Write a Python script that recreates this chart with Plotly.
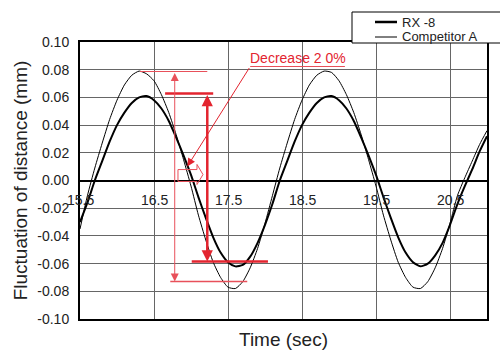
import plotly.graph_objects as go

# ---------------- data ----------------
time_s = [15.5, 15.6, 15.7, 15.8, 15.9, 16.0, 16.1, 16.2, 16.3, 16.4, 16.5, 16.6, 16.7, 16.8, 16.9,
          17.0, 17.1, 17.2, 17.3, 17.4, 17.5, 17.6, 17.7, 17.8, 17.9, 18.0, 18.1, 18.2, 18.3, 18.4,
          18.5, 18.6, 18.7, 18.8, 18.9, 19.0, 19.1, 19.2, 19.3, 19.4, 19.5, 19.6, 19.7, 19.8, 19.9,
          20.0, 20.1, 20.2, 20.3, 20.4, 20.5, 20.6, 20.7, 20.8, 20.9, 21.0]

rx8 = [-0.030, -0.016, 0.000, 0.014, 0.028, 0.040, 0.049, 0.056, 0.060, 0.061, 0.058, 0.052, 0.043,
       0.031, 0.018, 0.004, -0.012, -0.027, -0.041, -0.052, -0.059, -0.062, -0.061, -0.055, -0.045,
       -0.032, -0.017, 0.000, 0.014, 0.028, 0.040, 0.049, 0.056, 0.060, 0.061, 0.058, 0.052, 0.043,
       0.031, 0.018, 0.004, -0.012, -0.027, -0.041, -0.052, -0.059, -0.062, -0.060, -0.054, -0.045,
       -0.032, -0.017, -0.004, 0.008, 0.021, 0.032]

competitor = [-0.035, -0.011, 0.009, 0.027, 0.044, 0.058, 0.069, 0.076, 0.079, 0.077, 0.072, 0.062,
              0.049, 0.033, 0.015, -0.004, -0.025, -0.043, -0.059, -0.070, -0.077, -0.078, -0.073,
              -0.063, -0.049, -0.031, -0.011, 0.009, 0.027, 0.044, 0.058, 0.069, 0.076, 0.079, 0.078,
              0.072, 0.062, 0.049, 0.033, 0.015, -0.004, -0.025, -0.043, -0.059, -0.070, -0.077,
              -0.078, -0.073, -0.063, -0.049, -0.031, -0.011, 0.002, 0.014, 0.026, 0.036]

series_names = ["RX -8", "Competitor A"]

x_tick_vals = [15.5, 16.5, 17.5, 18.5, 19.5, 20.5]
x_tick_labels = ["15.5", "16.5", "17.5", "18.5", "19.5", "20.5"]
y_tick_vals = [0.10, 0.08, 0.06, 0.04, 0.02, 0.00, -0.02, -0.04, -0.06, -0.08, -0.10]
y_tick_labels = ["0.10", "0.08", "0.06", "0.04", "0.02", "0.00", "-0.02", "-0.04", "-0.06", "-0.08", "-0.10"]

annotation_text = "Decrease 2 0%"

# amplitude markers (value levels)
comp_top = 0.0787
comp_bottom = -0.073
rx8_top = 0.0628
rx8_bottom = -0.0585

# ---------------- figure ----------------
FONT = "Liberation Sans, Arial, sans-serif"
RED = "#e3242f"
RED_THIN = "#e8505a"

fig = go.Figure()
fig.add_trace(go.Scatter(x=time_s, y=competitor, mode="lines", name=series_names[1],
                         line=dict(color="black", width=1, shape="spline", smoothing=0.6),
                         showlegend=False))
fig.add_trace(go.Scatter(x=time_s, y=rx8, mode="lines", name=series_names[0],
                         line=dict(color="black", width=2, shape="spline", smoothing=0.6),
                         showlegend=False))

shapes = []
annotations = []

# red horizontal amplitude lines
shapes.append(dict(type="line", xref="x", yref="y", x0=16.31, x1=17.22, y0=comp_top, y1=comp_top,
                   line=dict(color=RED_THIN, width=1.2)))
shapes.append(dict(type="line", xref="x", yref="y", x0=16.65, x1=17.30, y0=rx8_top, y1=rx8_top,
                   line=dict(color=RED, width=2.5)))
shapes.append(dict(type="line", xref="x", yref="y", x0=17.01, x1=18.04, y0=rx8_bottom, y1=rx8_bottom,
                   line=dict(color=RED, width=2.5)))
shapes.append(dict(type="line", xref="x", yref="y", x0=16.72, x1=17.76, y0=comp_bottom, y1=comp_bottom,
                   line=dict(color=RED_THIN, width=1.5)))

# block arrow outline
shapes.append(dict(type="path", xref="x", yref="y",
                   path="M 16.824 0.0079 L 17.081 0.0079 L 17.081 0.0116 L 17.162 0.0043 "
                        "L 17.081 -0.0029 L 17.081 -0.0007 L 16.824 -0.0007 Z",
                   line=dict(color=RED_THIN, width=1), fillcolor="rgba(0,0,0,0)"))

# underline of the text
shapes.append(dict(type="line", xref="x", yref="y", x0=17.80, x1=19.08, y0=0.0823, y1=0.0823,
                   line=dict(color=RED_THIN, width=1)))

# vertical double arrows
annotations.append(dict(x=16.78, y=comp_bottom, ax=16.78, ay=comp_top, xref="x", yref="y",
                        axref="x", ayref="y", text="", showarrow=True, arrowside="end+start",
                        arrowhead=2, startarrowhead=2, arrowwidth=1, arrowsize=1.6, startarrowsize=1.6,
                        arrowcolor=RED_THIN))
annotations.append(dict(x=17.22, y=rx8_bottom, ax=17.22, ay=rx8_top, xref="x", yref="y",
                        axref="x", ayref="y", text="", showarrow=True, arrowside="end+start",
                        arrowhead=2, startarrowhead=2, arrowwidth=2.5, arrowsize=0.9, startarrowsize=0.9,
                        arrowcolor=RED))
# pointer line
annotations.append(dict(x=16.95, y=0.0101, ax=17.80, ay=0.0823, xref="x", yref="y",
                        axref="x", ayref="y", text="", showarrow=True, arrowhead=2,
                        arrowwidth=1, arrowsize=1.6, arrowcolor=RED))
annotations.append(dict(x=18.45, y=0.0888, xref="x", yref="y", text=annotation_text, showarrow=False,
                        font=dict(family=FONT, size=14, color=RED), xanchor="center", yanchor="middle"))

# x tick labels along zero line
for v, lab in zip(x_tick_vals, x_tick_labels):
    annotations.append(dict(x=v, y=0, xref="x", yref="y", text=lab, showarrow=False,
                            xanchor="center", yanchor="top", yshift=-9,
                            font=dict(family=FONT, size=14, color="#222")))

# custom legend
W, H = 407.0, 277.0
def px_x(p):
    return (p - 80) / W
def px_y(p):
    return (319 - p) / H
shapes.append(dict(type="rect", xref="paper", yref="paper", x0=px_x(352), x1=px_x(506),
                   y0=px_y(43), y1=px_y(12), line=dict(color="black", width=1), fillcolor="white",
                   layer="above"))
shapes.append(dict(type="line", xref="paper", yref="paper", x0=px_x(375), x1=px_x(397),
                   y0=px_y(22), y1=px_y(22), line=dict(color="black", width=2.5), layer="above"))
shapes.append(dict(type="line", xref="paper", yref="paper", x0=px_x(375), x1=px_x(397),
                   y0=px_y(37), y1=px_y(37), line=dict(color="black", width=1), layer="above"))
annotations.append(dict(x=px_x(400), y=px_y(22), xref="paper", yref="paper", text=series_names[0],
                        showarrow=False, xanchor="left", yanchor="middle",
                        font=dict(family=FONT, size=13, color="#222")))
annotations.append(dict(x=px_x(400), y=px_y(37), xref="paper", yref="paper", text=series_names[1],
                        showarrow=False, xanchor="left", yanchor="middle",
                        font=dict(family=FONT, size=13, color="#222")))

fig.update_layout(
    width=500, height=350,
    margin=dict(l=80, r=13, t=42, b=31),
    paper_bgcolor="white", plot_bgcolor="white",
    font=dict(family=FONT, size=13, color="#222"),
    shapes=shapes, annotations=annotations,
    xaxis=dict(range=[15.5, 21.0], tick0=15.5, dtick=1, showticklabels=False, ticks="",
               automargin=False,
               showgrid=True, gridcolor="#666", gridwidth=1, zeroline=False,
               showline=True, linecolor="black", linewidth=2, mirror=True,
               title=dict(text="Time (sec)", font=dict(family=FONT, size=19, color="#222"), standoff=15)),
    yaxis=dict(range=[-0.1, 0.1], tickvals=y_tick_vals, ticktext=y_tick_labels, ticks="",
               ticklabelstandoff=6, automargin=False,
               showgrid=True, gridcolor="#666", gridwidth=1,
               zeroline=True, zerolinecolor="black", zerolinewidth=2,
               showline=True, linecolor="black", linewidth=2, mirror=True,
               tickfont=dict(family=FONT, size=14, color="#222"),
               title=dict(text="Fluctuation of distance (mm)", font=dict(family=FONT, size=19, color="#222"),
                          standoff=5)),
)

fig.write_html("out.html")
